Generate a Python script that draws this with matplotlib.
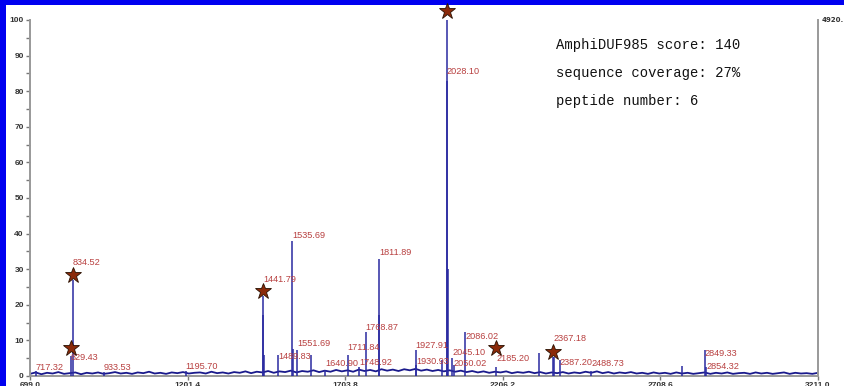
import numpy as np
import matplotlib.pyplot as plt
from matplotlib.patches import Rectangle

# peaks: m/z and relative intensity (%)
peak_mz = [717.32, 829.43, 834.52, 933.53, 1195.70, 1441.79, 1442.79, 1443.79,
           1489.83, 1535.69, 1536.69, 1551.69, 1594.0, 1640.90, 1711.84, 1748.92,
           1768.87, 1811.89, 1812.89, 1927.91, 1930.93, 2012.0, 2028.10, 2029.10,
           2030.10, 2045.10, 2050.02, 2086.02, 2185.20, 2321.6, 2367.18, 2368.18,
           2387.20, 2488.73, 2777.0, 2849.33, 2854.32]
peak_int = [1.5, 5.5, 27.0, 1.2, 1.3, 22.5, 17.0, 6.0,
            6.0, 38.0, 7.5, 7.3, 6.0, 1.8, 6.0, 2.5,
            12.3, 33.0, 17.0, 7.3, 3.0, 4.5, 100.0, 83.0,
            30.0, 5.0, 3.0, 12.3, 2.5, 6.5, 5.3, 5.3,
            4.5, 1.5, 2.8, 7.3, 2.5]

# labelled peaks and where the label sits (intensity units)
lab_mz = [717.32, 829.43, 834.52, 933.53, 1195.70, 1441.79, 1489.83, 1535.69,
          1551.69, 1640.90, 1711.84, 1748.92, 1768.87, 1811.89, 1927.91, 1930.93,
          2028.10, 2045.10, 2050.02, 2086.02, 2185.20, 2367.18, 2387.20, 2488.73,
          2849.33, 2854.32]
lab_y = [2.5, 5.3, 32.0, 2.5, 2.8, 27.2, 5.4, 39.6,
         9.0, 3.4, 7.9, 3.9, 13.5, 34.8, 8.7, 4.0,
         85.4, 6.5, 3.6, 11.2, 4.8, 10.4, 3.9, 3.4,
         6.2, 2.8]

# matched peptides (stars)
star_mz = [829.43, 834.52, 1441.79, 2028.10, 2185.20, 2367.18]
star_y = [8.0, 28.5, 24.0, 102.5, 7.8, 6.8]

# baseline noise
noise = [0.6, 1.0, 0.5, 0.9, 0.7, 1.1, 0.6, 0.8, 1.0, 0.5, 0.9, 0.7, 1.0, 0.6, 0.8,
         1.1, 0.7, 0.9, 0.6, 1.0, 0.8, 1.2, 0.7, 0.9, 0.6, 1.0, 0.8, 1.1, 0.7, 0.9,
         1.0, 0.7, 1.2, 0.8, 1.0, 0.7, 1.1, 0.9, 1.3, 0.8, 1.2, 1.0, 1.4, 0.9, 1.3,
         1.1, 1.5, 1.0, 1.4, 1.2, 1.6, 1.1, 1.5, 1.2, 1.7, 1.3, 1.6, 1.2, 1.8, 1.4,
         1.7, 1.3, 1.9, 1.5, 1.8, 1.4, 1.9, 1.6, 2.0, 1.5, 1.8, 1.4, 1.7, 1.3, 1.6,
         1.2, 1.5, 1.1, 1.4, 1.0, 1.3, 0.9, 1.2, 1.0, 1.3, 0.8, 1.1, 0.9, 1.2, 0.8,
         1.1, 0.7, 1.0, 0.8, 1.1, 0.7, 1.0, 0.8, 1.2, 0.9, 1.3, 0.8, 1.1, 0.7, 1.0,
         0.8, 1.1, 0.7, 0.9, 0.6, 1.0, 0.7, 0.9, 0.6, 1.0, 0.7, 0.9, 0.6, 0.8, 1.0,
         0.6, 0.9, 0.7, 1.0, 0.6, 0.8, 0.9, 0.6, 1.0, 0.7, 0.9, 0.6, 0.8, 1.0, 0.6,
         0.9, 0.7, 0.8, 0.6, 0.9]

info = ["AmphiDUF985 score: 140", "sequence coverage: 27%", "peptide number: 6"]
xticks = [699.0, 1201.4, 1703.8, 2206.2, 2708.6, 3211.0]

W, H = 844, 386
fig = plt.figure(figsize=(W / 100, H / 100), dpi=100)
fig.patch.set_facecolor('#0000f0')
fig.patches.append(Rectangle((6 / W, 0), 1, 1 - 5 / H, transform=fig.transFigure,
                             facecolor='white', edgecolor='none', zorder=-10))

ax = fig.add_axes([30 / W, 10 / H, 788 / W, 356 / H])
ax.set_zorder(1)
ax.set_facecolor('none')
ax.set_xlim(699.0, 3211.0)
ax.set_ylim(0, 100)

noise_x = np.linspace(699.0, 3211.0, len(noise))
ax.plot(noise_x, noise, color='#1a1a8c', lw=1.3, zorder=2)
ax.vlines(peak_mz, 0, peak_int, color='#2a2aa0', lw=1.1, zorder=3)

ax.plot(star_mz, star_y, ls='none', marker='*', ms=12, mfc='#8b2a0a',
        mec='#2a1000', mew=0.6, clip_on=False, zorder=5)

for mz, y in zip(lab_mz, lab_y):
    ax.text(mz, y, f"{mz:.2f}", color='#b84040', fontsize=6.6,
            family='Liberation Sans', ha='left', va='center', zorder=4)

for i, line in enumerate(info):
    ax.text(0.668, 0.93 - i * 0.079, line, transform=ax.transAxes,
            family='Liberation Mono', fontsize=10, color='#111111',
            ha='left', va='center')

ax.text(1.005, 1.0, "4920.", transform=ax.transAxes, fontsize=5,
        fontweight='bold', color='#333333', ha='left', va='center')

for s in ['left', 'right', 'bottom']:
    ax.spines[s].set_color('#999999')
    ax.spines[s].set_linewidth(1.4)
ax.spines['top'].set_visible(False)

ax.set_yticks(range(0, 101, 10))
ax.set_yticks(range(5, 100, 10), minor=True)
ax.set_xticks(xticks)
ax.set_xticklabels([f"{t:.1f}" for t in xticks])
ax.tick_params(axis='both', which='both', direction='out', length=3, width=1,
               color='#777777', labelsize=6, labelcolor='#333333', pad=1.5)
for lbl in ax.get_xticklabels() + ax.get_yticklabels():
    lbl.set_fontweight('bold')
    lbl.set_family('Liberation Sans')

fig.savefig('out.png', dpi=100)
